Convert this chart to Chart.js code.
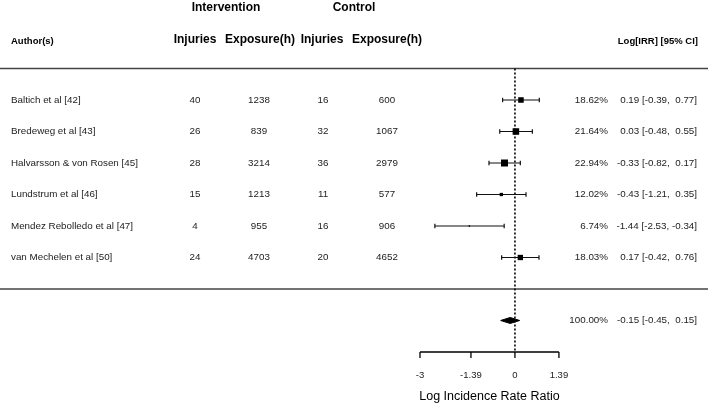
<!DOCTYPE html>
<html>
<head>
<meta charset="utf-8">
<script src="https://cdn.jsdelivr.net/npm/chart.js@4.4.1/dist/chart.umd.min.js"></script>
<style>
  html, body { margin: 0; padding: 0; background: #fff; }
  #wrap { width: 708px; height: 405px; position: relative; }
</style>
</head>
<body>
<div id="wrap"><canvas id="myChart"></canvas></div>
<script>
const authors = ['Baltich et al [42]', 'Bredeweg et al [43]', 'Halvarsson & von Rosen [45]',
  'Lundstrum et al [46]', 'Mendez Rebolledo et al [47]', 'van Mechelen et al [50]']
const intInjuries = [40, 26, 28, 15, 4, 24]
const intExposure = [1238, 839, 3214, 1213, 955, 4703]
const ctlInjuries = [16, 32, 36, 11, 16, 20]
const ctlExposure = [600, 1067, 2979, 577, 906, 4652]
const weights = [18.62, 21.64, 22.94, 12.02, 6.74, 18.03]
const estimates = [0.19, 0.03, -0.33, -0.43, -1.44, 0.17]
const ciLower = [-0.39, -0.48, -0.82, -1.21, -2.53, -0.42]
const ciUpper = [0.77, 0.55, 0.17, 0.35, -0.34, 0.76]
const pooledEst = -0.15
const pooledLower = -0.45
const pooledUpper = 0.15
const pooledWeight = 100
const tickValues = [-3, -1.39, 0, 1.39]
const tickLabels = ['-3', '-1.39', '0', '1.39']

// row layout (y index): studies 0..5, separators at -1 and 6, summary at 7, axis at 8
const X_MIN = -16.27, X_MAX = 6.10
const Y_MIN = -3.175, Y_MAX = 9.683
const SUMMARY_ROW = 7, AXIS_ROW = 8

const fmt = v => v.toFixed(2)
const ciText = (e, l, u) => fmt(e) + ' [' + fmt(l) + ', ' + (u >= 0 ? ' ' : '') + fmt(u) + ']'

const minW = Math.min(...weights), maxW = Math.max(...weights)
const squareRadius = weights.map(w => (1.5 + (w - minW) / (maxW - minW) * 5.5) / Math.SQRT2)

const datasets = []

// squares (drawn on top: first dataset)
datasets.push({
  type: 'scatter',
  data: estimates.map((e, i) => ({ x: e, y: i })),
  pointStyle: 'rect',
  pointRadius: squareRadius,
  backgroundColor: '#000',
  borderColor: '#000',
  borderWidth: 0
})

// confidence intervals with end caps
estimates.forEach((e, i) => {
  datasets.push({
    type: 'line',
    data: [{ x: ciLower[i], y: i }, { x: ciUpper[i], y: i }],
    borderColor: '#111',
    borderWidth: 1.2,
    pointStyle: 'line',
    rotation: 90,
    pointRadius: 2.2,
    pointBorderColor: '#111',
    pointBorderWidth: 1.2,
    fill: false
  })
})

// summary diamond (two halves, filled between)
datasets.push({
  type: 'line',
  data: [{ x: pooledLower, y: SUMMARY_ROW }, { x: pooledEst, y: SUMMARY_ROW - 0.095 }, { x: pooledUpper, y: SUMMARY_ROW }],
  borderColor: '#000', borderWidth: 1, backgroundColor: '#000',
  pointRadius: 0, tension: 0, fill: '+1'
})
datasets.push({
  type: 'line',
  data: [{ x: pooledLower, y: SUMMARY_ROW }, { x: pooledEst, y: SUMMARY_ROW + 0.095 }, { x: pooledUpper, y: SUMMARY_ROW }],
  borderColor: '#000', borderWidth: 1,
  pointRadius: 0, tension: 0, fill: false
})

// dotted reference line at 0
datasets.push({
  type: 'line',
  data: [{ x: 0, y: -1 }, { x: 0, y: AXIS_ROW }],
  borderColor: '#000', borderWidth: 1.6, borderDash: [2, 2],
  pointRadius: 0, fill: false
})

// separators
;[-1, 6].forEach(r => {
  datasets.push({
    type: 'line',
    data: [{ x: X_MIN, y: r }, { x: X_MAX, y: r }],
    borderColor: '#444', borderWidth: 1.5,
    pointRadius: 0, fill: false
  })
})

const FONT = '"Liberation Sans", Arial, sans-serif'

const textPlugin = {
  id: 'forestText',
  afterDraw(chart) {
    const ctx = chart.ctx
    const xs = chart.scales.x, ys = chart.scales.y
    ctx.save()
    ctx.textBaseline = 'middle'

    // headers
    ctx.fillStyle = '#000'
    ctx.font = 'bold 12px ' + FONT
    ctx.textAlign = 'center'
    ctx.fillText('Intervention', 226, 8)
    ctx.fillText('Control', 354, 8)
    ctx.fillText('Injuries', 195, 40)
    ctx.fillText('Exposure(h)', 260, 40)
    ctx.fillText('Injuries', 322, 40)
    ctx.fillText('Exposure(h)', 387, 40)
    ctx.font = 'bold 9.5px ' + FONT
    ctx.textAlign = 'left'
    ctx.fillText('Author(s)', 11, 41)
    ctx.textAlign = 'right'
    ctx.fillText('Log[IRR] [95% CI]', 698, 41)

    // study rows
    ctx.fillStyle = '#222'
    ctx.font = '9.8px ' + FONT
    authors.forEach((a, i) => {
      const y = ys.getPixelForValue(i)
      ctx.textAlign = 'left'
      ctx.fillText(a, 11, y)
      ctx.textAlign = 'center'
      ctx.fillText(String(intInjuries[i]), 195, y)
      ctx.fillText(String(intExposure[i]), 259, y)
      ctx.fillText(String(ctlInjuries[i]), 323, y)
      ctx.fillText(String(ctlExposure[i]), 387, y)
      ctx.textAlign = 'right'
      ctx.fillText(weights[i].toFixed(2) + '%', 608, y)
      ctx.fillText(ciText(estimates[i], ciLower[i], ciUpper[i]), 697, y)
    })
    const ys7 = ys.getPixelForValue(SUMMARY_ROW)
    ctx.textAlign = 'right'
    ctx.fillText(pooledWeight.toFixed(2) + '%', 608, ys7)
    ctx.fillText(ciText(pooledEst, pooledLower, pooledUpper), 697, ys7)

    // bottom axis
    const ay = ys.getPixelForValue(AXIS_ROW)
    const x0 = xs.getPixelForValue(tickValues[0])
    const x1 = xs.getPixelForValue(tickValues[tickValues.length - 1])
    ctx.strokeStyle = '#000'
    ctx.lineWidth = 1.3
    ctx.beginPath()
    ctx.moveTo(x0, ay); ctx.lineTo(x1, ay)
    tickValues.forEach(t => {
      const tx = xs.getPixelForValue(t)
      ctx.moveTo(tx, ay); ctx.lineTo(tx, ay + 6)
    })
    ctx.stroke()
    ctx.fillStyle = '#222'
    ctx.font = '9.5px ' + FONT
    ctx.textAlign = 'center'
    tickValues.forEach((t, i) => ctx.fillText(tickLabels[i], xs.getPixelForValue(t), ay + 23))
    ctx.fillStyle = '#000'
    ctx.font = '12.5px ' + FONT
    ctx.fillText('Log Incidence Rate Ratio', (x0 + x1) / 2, ay + 45)
    ctx.restore()
  }
}

new Chart(document.getElementById('myChart'), {
  type: 'scatter',
  data: { datasets },
  options: {
    responsive: true,
    maintainAspectRatio: false,
    animation: false,
    layout: { padding: 0, autoPadding: false },
    plugins: { legend: { display: false }, tooltip: { enabled: false } },
    scales: {
      x: { type: 'linear', min: X_MIN, max: X_MAX, display: false },
      y: { type: 'linear', min: Y_MIN, max: Y_MAX, reverse: true, display: false }
    }
  },
  plugins: [textPlugin]
})
</script>
</body>
</html>
